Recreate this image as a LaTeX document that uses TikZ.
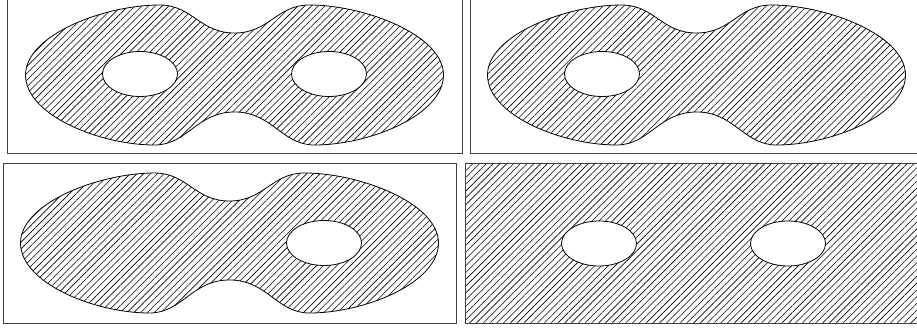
\documentclass[tikz,border=0pt]{standalone}
\usetikzlibrary{patterns.meta}

\tikzset{
  hatched/.style={pattern={Lines[angle=45,distance=4.8pt,line width=0.6pt]}},
  frame/.style={draw=black!75,line width=0.9pt},
  outline/.style={draw=black,line width=0.8pt},
  % two-lobed surface, centred at the origin
  blob/.style={insert path={(-209,0) .. controls (-209,40) and (-130,70) .. (-75,70)
      .. controls (-42,70) and (-35,42) .. (0,42)
      .. controls (35,42) and (42,70) .. (75,70)
      .. controls (130,70) and (209,40) .. (209,0)
      .. controls (209,-40) and (135,-70) .. (80,-70)
      .. controls (47,-70) and (38,-37) .. (0,-37)
      .. controls (-38,-37) and (-47,-70) .. (-80,-70)
      .. controls (-135,-70) and (-209,-40) .. (-209,0) -- cycle}}
}

\begin{document}
\begin{tikzpicture}[x=1pt,y=1pt]

% Parameters
\def\hx{94.5}
\def\rx{37.5}
\def\ry{22.5}

\useasboundingbox (0,0) rectangle (917,331);

% Top left: both holes
\draw[frame] (7,178) rectangle (462,334);
\begin{scope}[shift={(234.5,256)}]
  \fill[hatched,even odd rule,blob] (-\hx,1) ellipse ({\rx} and {\ry}) (\hx,1) ellipse ({\rx} and {\ry});
  \draw[outline,blob];
  \draw[outline] (-\hx,1) ellipse ({\rx} and {\ry});
  \draw[outline] (\hx,1) ellipse ({\rx} and {\ry});
\end{scope}

% Top right: left hole only
\draw[frame] (470,178) rectangle (923,334);
\begin{scope}[shift={(696.5,256)}]
  \fill[hatched,even odd rule,blob] (-\hx,1) ellipse ({\rx} and {\ry});
  \draw[outline,blob];
  \draw[outline] (-\hx,1) ellipse ({\rx} and {\ry});
\end{scope}

% Bottom left: right hole only
\draw[frame] (3,8) rectangle (456,168);
\begin{scope}[shift={(229.5,88)}]
  \fill[hatched,even odd rule,blob] (\hx,0) ellipse ({\rx} and {\ry});
  \draw[outline,blob];
  \draw[outline] (\hx,0) ellipse ({\rx} and {\ry});
\end{scope}

% Bottom right: whole rectangle minus the holes
\begin{scope}[shift={(693.5,87.5)}]
  \fill[hatched,even odd rule] (-228.5,-79.5) rectangle (227.5,80.5)
    (-\hx,0) ellipse ({\rx} and {\ry}) (\hx,0) ellipse ({\rx} and {\ry});
  \draw[frame] (-228.5,-79.5) rectangle (227.5,80.5);
  \draw[outline] (-\hx,0) ellipse ({\rx} and {\ry});
  \draw[outline] (\hx,0) ellipse ({\rx} and {\ry});
\end{scope}

\end{tikzpicture}
\end{document}
